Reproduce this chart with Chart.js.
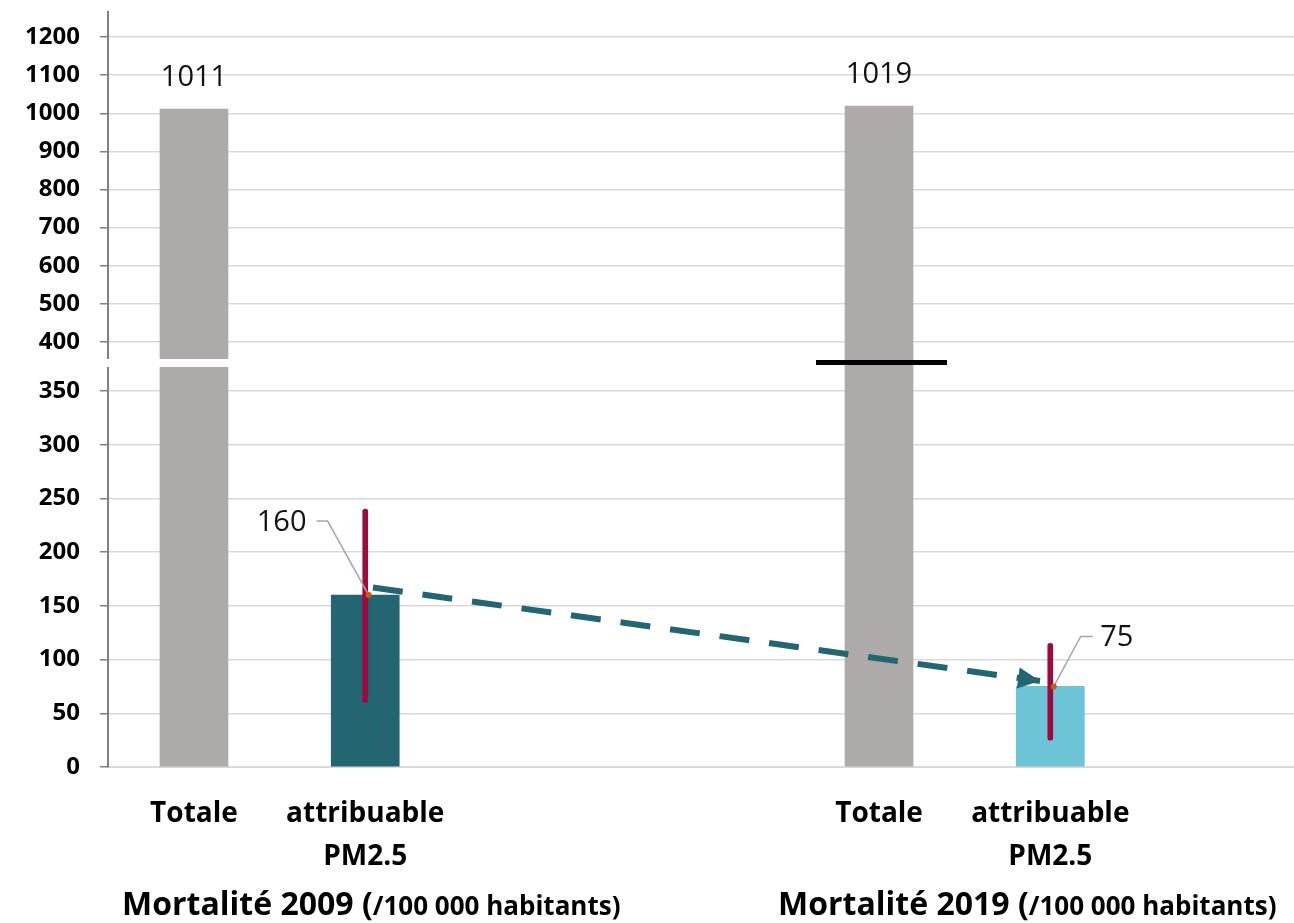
<!DOCTYPE html>
<html><head><meta charset="utf-8">
<script src="https://cdn.jsdelivr.net/npm/chart.js@4.4.1/dist/chart.umd.min.js"></script>
<style>html,body{margin:0;padding:0;background:#fff;overflow:hidden}#wrap{position:relative;width:1294px;height:923px}</style>
</head><body><div id="wrap"><canvas id="c"></canvas></div>
<script>
// ---- data ----
const periods = ['Mortalité 2009', 'Mortalité 2019'];
const unitLabel = '/100 000 habitants';
const barCategories = ['Totale', ['attribuable', 'PM2.5']];
const totalMortality = [1011, 1019];
const pm25Mortality = [160, 75];
const pm25Low = [60, 25];
const pm25High = [240, 115];
const trendValues = [167, 80];
const lowerTicks = [0, 50, 100, 150, 200, 250, 300, 350];
const upperTicks = [400, 500, 600, 700, 800, 900, 1000, 1100, 1200];

// ---- layout constants ----
const LOWER_MAX = 376, UPPER_MIN = 345, UPPER_MAX = 1265.6;
const GROUP_SLOT = [0, 4];
const X_MIN = -0.502, X_MAX = 6.423;
const TITLE_X = [122, 778];
const FONT = '"Open Sans", Lato, sans-serif';
const GRAY = '#AEAAAA', TEAL = '#236570', LIGHT = '#6DC4D6', RED = '#9E0A3D';

const slotLabel = {};
GROUP_SLOT.forEach(g => { slotLabel[g] = barCategories[0]; slotLabel[g + 1] = barCategories[1]; });

const datasets = [
  { type: 'bar', label: 'IC', order: -1, grouped: false, barThickness: 5, backgroundColor: RED, borderRadius: 3, borderSkipped: false,
    yAxisID: 'yLow', data: GROUP_SLOT.map((g, i) => ({ x: g + 1, y: [pm25Low[i], pm25High[i]] })) },
  { type: 'line', label: 'trend', order: 0, borderColor: TEAL, borderWidth: 6, borderDash: [30, 20], pointRadius: 0, fill: false,
    yAxisID: 'yLow', data: [{ x: GROUP_SLOT[0] + 1.045, y: trendValues[0] }, { x: GROUP_SLOT[1] + 0.94, y: trendValues[1] }] },
  { type: 'bar', label: 'attr', order: 2, grouped: false, barThickness: 68, backgroundColor: [TEAL, LIGHT],
    yAxisID: 'yLow', data: GROUP_SLOT.map((g, i) => ({ x: g + 1, y: pm25Mortality[i] })) },
  { type: 'bar', label: 'totLow', order: 3, grouped: false, barThickness: 68, backgroundColor: GRAY,
    yAxisID: 'yLow', data: GROUP_SLOT.map((g, i) => ({ x: g, y: [0, Math.min(totalMortality[i], LOWER_MAX)] })) },
  { type: 'bar', label: 'totHigh', order: 3, grouped: false, barThickness: 68, backgroundColor: GRAY,
    yAxisID: 'yHigh', data: GROUP_SLOT.map((g, i) => ({ x: g, y: [UPPER_MIN, totalMortality[i]] })) }
];
const TREND_INDEX = 1;

const attrLabelCfg = [
  { dx: -87, dy: -72, l1: [-41, -74], l2: [-52, -74] },
  { dx: 63, dy: -49, l1: [27, -50], l2: [39, -50] }
];

const decor = {
  id: 'decor',
  afterDatasetsDraw(chart) {
    const ctx = chart.ctx, xs = chart.scales.x, yL = chart.scales.yLow, yH = chart.scales.yHigh;
    const boundary = yL.top;
    ctx.save();
    // axis break gap (2009 bar + axis)
    const b0 = xs.getPixelForValue(GROUP_SLOT[0]);
    ctx.fillStyle = '#fff';
    ctx.fillRect(xs.left - 4, boundary - 4, b0 + 40 - (xs.left - 4), 8);
    // black break line on 2019 bar
    const b1 = xs.getPixelForValue(GROUP_SLOT[1]);
    ctx.fillStyle = '#000';
    ctx.fillRect(b1 - 63, boundary - 3, 131, 5);
    // total labels
    ctx.fillStyle = '#111';
    ctx.font = '29px ' + FONT;
    ctx.textAlign = 'center'; ctx.textBaseline = 'middle';
    GROUP_SLOT.forEach((g, i) => {
      ctx.fillText(String(totalMortality[i]), xs.getPixelForValue(g), yH.getPixelForValue(totalMortality[i]) - 31);
    });
    // attributable labels with leaders
    GROUP_SLOT.forEach((g, i) => {
      const c = attrLabelCfg[i];
      const ax = xs.getPixelForValue(g + 1.02), ay = yL.getPixelForValue(pm25Mortality[i]);
      ctx.strokeStyle = '#A6A6A6'; ctx.lineWidth = 1.5;
      ctx.beginPath(); ctx.moveTo(ax, ay); ctx.lineTo(ax + c.l1[0], ay + c.l1[1]); ctx.lineTo(ax + c.l2[0], ay + c.l2[1]); ctx.stroke();
      ctx.fillStyle = '#111';
      ctx.fillText(String(pm25Mortality[i]), ax + c.dx, ay + c.dy);
      ctx.fillStyle = '#C55A11';
      ctx.beginPath(); ctx.arc(ax, ay, 3, 0, Math.PI * 2); ctx.fill();
    });
    // arrowhead
    const meta = chart.getDatasetMeta(TREND_INDEX);
    const p0 = meta.data[0], p1 = meta.data[1];
    const ang = Math.atan2(p1.y - p0.y, p1.x - p0.x);
    ctx.fillStyle = TEAL;
    ctx.translate(p1.x, p1.y); ctx.rotate(ang);
    ctx.beginPath(); ctx.moveTo(0, 0); ctx.lineTo(-22, -10.5); ctx.lineTo(-22, 10.5); ctx.closePath(); ctx.fill();
    ctx.setTransform(1, 0, 0, 1, 0, 0);
    // group titles
    ctx.textAlign = 'left'; ctx.textBaseline = 'alphabetic'; ctx.fillStyle = '#000';
    periods.forEach((p, i) => {
      ctx.font = 'bold 32px ' + FONT;
      const t1 = p + ' (';
      ctx.fillText(t1, TITLE_X[i], 915);
      const w = ctx.measureText(t1).width;
      ctx.font = 'bold 26px ' + FONT;
      ctx.fillText(unitLabel + ')', TITLE_X[i] + w, 915);
    });
    ctx.restore();
  }
};

const yCommon = (ticks, min, max, weight) => ({
  type: 'linear', position: 'left', stack: 'y', stackWeight: weight, min, max,
  grid: { color: '#D9D9D9', lineWidth: 1.5, tickColor: '#808080', tickLength: 8, drawTicks: true },
  border: { color: '#808080', width: 2 },
  ticks: { font: { family: FONT, size: 24, weight: 'bold' }, color: '#000', padding: 20, autoSkip: false,
           callback: v => String(v) },
  afterBuildTicks: s => { s.ticks = ticks.map(v => ({ value: v })); },
  afterFit: s => { s.width = 108; s.paddingTop = 0; s.paddingBottom = 0; }
});

new Chart(document.getElementById('c'), {
  data: { datasets },
  options: {
    responsive: true, maintainAspectRatio: false, animation: false,
    layout: { padding: { top: 12, left: 0, right: 0, bottom: 0 } },
    plugins: { legend: { display: false }, tooltip: { enabled: false } },
    scales: {
      x: {
        type: 'linear', min: X_MIN, max: X_MAX, offset: false,
        grid: { display: false },
        border: { color: '#D9D9D9', width: 2 },
        ticks: { font: { family: FONT, size: 28, weight: 'bold', lineHeight: 1.54 }, color: '#000', padding: 17,
                 autoSkip: false, maxRotation: 0, callback: v => slotLabel[v] ?? '' },
        afterBuildTicks: s => { s.ticks = Object.keys(slotLabel).map(k => ({ value: Number(k) })); },
        afterFit: s => { s.height = 156; s.paddingLeft = 0; s.paddingRight = 0; }
      },
      yLow: yCommon(lowerTicks, 0, LOWER_MAX, 404),
      yHigh: yCommon(upperTicks, UPPER_MIN, UPPER_MAX, 351)
    }
  },
  plugins: [decor]
});
</script></body></html>
